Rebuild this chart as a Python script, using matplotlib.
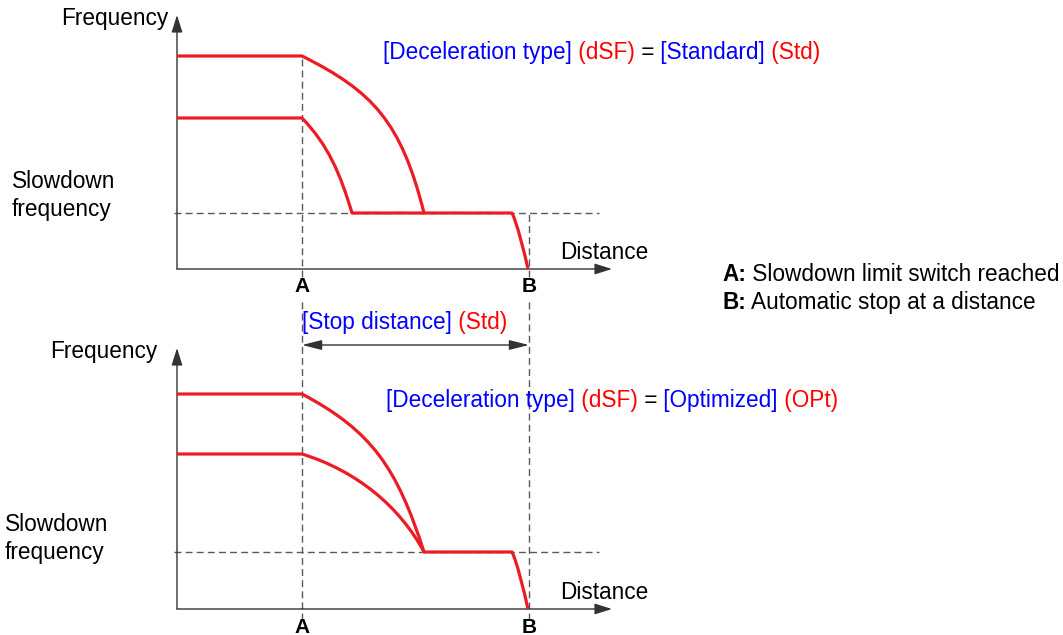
import matplotlib
matplotlib.use("Agg")
import matplotlib.pyplot as plt
from matplotlib.patches import ArrowStyle, PathPatch
from matplotlib.path import Path

plt.rcParams['font.family'] = ['Liberation Sans', 'DejaVu Sans']

# ---------------- data (drawing units: distance / frequency) ----------------
dist_A = 125
dist_B = 352
dist_axis_end = 435

# Curves are given as path vertices: plateau points and Bezier control points
M, L, C = Path.MOVETO, Path.LINETO, Path.CURVE4

# top panel : Deceleration type = Standard
top_freq_axis_end = 254
top_freq_slow = 56
top_high_x = [0, 125, 195, 224, 247, 335, 340, 347, 351]
top_high_y = [213, 213, 178, 148, 56, 56, 46, 18, 0]
top_high_codes = [M, L, C, C, C, L, C, C, C]
top_mid_x = [0, 125, 151, 163, 175, 247]
top_mid_y = [151, 151, 124, 96, 56, 56]
top_mid_codes = [M, L, C, C, C, L]

# bottom panel : Deceleration type = Optimized
bot_freq_axis_end = 261
bot_freq_slow = 57
bot_high_x = [0, 125, 195, 220, 247, 335, 340, 347, 351]
bot_high_y = [215, 215, 178, 141, 57, 57, 47, 18, 0]
bot_high_codes = [M, L, C, C, C, L, C, C, C]
bot_mid_x = [0, 125, 180, 223, 247]
bot_mid_y = [155, 155, 138, 102, 57]
bot_mid_codes = [M, L, C, C, C]
bot_stop_arrow_level = 264

# ---------------- styling ----------------
RED_LINE = '#ED1C24'
RED_TXT = '#FF0000'
BLUE_TXT = '#0000FF'
AX_COL = '#333333'
DASH_COL = '#5a5a5a'
FS = 16.3

W, H = 1063, 635
fig = plt.figure(figsize=(W / 100, H / 100), dpi=100)


def panel(origin_px):
    ox, oy = origin_px
    wu, hu = 460, 330
    ax = fig.add_axes([ox / W, (H - oy) / H, wu / W, hu / H])
    ax.set_xlim(0, wu)
    ax.set_ylim(0, hu)
    ax.axis('off')
    return ax


def axis_arrow(ax, x0, y0, x1, y1):
    ax.annotate('', xy=(x1, y1), xytext=(x0, y0),
                arrowprops=dict(arrowstyle=ArrowStyle('-|>', head_length=1.05, head_width=0.33),
                                mutation_scale=10, color=AX_COL, lw=1.0,
                                shrinkA=0, shrinkB=0),
                annotation_clip=False)


def curve(ax, xs, ys, codes):
    p = Path(list(zip(xs, ys)), codes)
    ax.add_patch(PathPatch(p, fill=False, edgecolor=RED_LINE, lw=2.3,
                           joinstyle='round', capstyle='butt', clip_on=False, zorder=5))


dash_kw = dict(color=DASH_COL, lw=1.0, dashes=(5, 3), clip_on=False)

# ---- top panel ----
axt = panel((177, 269))
axt.plot([-3, 422], [top_freq_slow, top_freq_slow], **dash_kw)
axt.plot([dist_A, dist_A], [-8, top_high_y[1]], **dash_kw)
axt.plot([dist_B, dist_B], [-8, top_freq_slow], **dash_kw)
axis_arrow(axt, 0, 0, 0, top_freq_axis_end)
axis_arrow(axt, 0, 0, dist_axis_end, 0)
curve(axt, top_mid_x, top_mid_y, top_mid_codes)
curve(axt, top_high_x, top_high_y, top_high_codes)

# ---- bottom panel ----
axb = panel((177, 609))
axb.plot([-3, 422], [bot_freq_slow, bot_freq_slow], **dash_kw)
axb.plot([dist_A, dist_A], [-11, 309], **dash_kw)
axb.plot([dist_B, dist_B], [-11, 309], **dash_kw)
axis_arrow(axb, 0, 0, 0, bot_freq_axis_end)
axis_arrow(axb, 0, 0, dist_axis_end, 0)
axb.annotate('', xy=(dist_B, bot_stop_arrow_level), xytext=(dist_A, bot_stop_arrow_level),
             arrowprops=dict(arrowstyle=ArrowStyle('<|-|>', head_length=1.2, head_width=0.3),
                             mutation_scale=10, color=AX_COL, lw=1.0, shrinkA=0, shrinkB=0),
             annotation_clip=False)
curve(axb, bot_mid_x, bot_mid_y, bot_mid_codes)
curve(axb, bot_high_x, bot_high_y, bot_high_codes)

# ---- text overlay (pixel coordinates) ----
axo = fig.add_axes([0, 0, 1, 1])
axo.set_xlim(0, W)
axo.set_ylim(H, 0)
axo.axis('off')
axo.patch.set_alpha(0)

fig.canvas.draw()
renderer = fig.canvas.get_renderer()


def rich(x, y, pieces, size=FS):
    for s, color, weight in pieces:
        t = axo.text(x, y, s, color=color, fontsize=size, fontweight=weight,
                     ha='left', va='baseline')
        bb = t.get_window_extent(renderer=renderer)
        x = axo.transData.inverted().transform((bb.x1, bb.y0))[0]


K = 'black'
# top panel labels
axo.text(61, 25, 'Frequency', fontsize=FS, color=K, va='baseline')
rich(383, 59, [('[Deceleration type]', BLUE_TXT, 'normal'), (' (dSF)', RED_TXT, 'normal'),
               (' =', K, 'normal'), (' [Standard]', BLUE_TXT, 'normal'), (' (Std)', RED_TXT, 'normal')])
axo.text(12, 188, 'Slowdown', fontsize=FS, color=K, va='baseline')
axo.text(12, 216, 'frequency', fontsize=FS, color=K, va='baseline')
axo.text(560, 259, 'Distance', fontsize=FS, color=K, va='baseline')
axo.text(302, 292, 'A', fontsize=15, color=K, fontweight='bold', ha='center', va='baseline')
axo.text(529, 292, 'B', fontsize=15, color=K, fontweight='bold', ha='center', va='baseline')

# legend
rich(722, 281, [('A:', K, 'bold'), (' Slowdown limit switch reached', K, 'normal')])
rich(722, 309, [('B:', K, 'bold'), (' Automatic stop at a distance', K, 'normal')])

# bottom panel labels
rich(302, 329, [('[Stop distance]', BLUE_TXT, 'normal'), (' (Std)', RED_TXT, 'normal')])
axo.text(50, 358, 'Frequency', fontsize=FS, color=K, va='baseline')
rich(386, 407, [('[Deceleration type]', BLUE_TXT, 'normal'), (' (dSF)', RED_TXT, 'normal'),
                (' =', K, 'normal'), (' [Optimized]', BLUE_TXT, 'normal'), (' (OPt)', RED_TXT, 'normal')])
axo.text(5, 531, 'Slowdown', fontsize=FS, color=K, va='baseline')
axo.text(5, 559, 'frequency', fontsize=FS, color=K, va='baseline')
axo.text(560, 599, 'Distance', fontsize=FS, color=K, va='baseline')
axo.text(302, 633, 'A', fontsize=15, color=K, fontweight='bold', ha='center', va='baseline')
axo.text(529, 633, 'B', fontsize=15, color=K, fontweight='bold', ha='center', va='baseline')

fig.savefig('out.png', dpi=100)
